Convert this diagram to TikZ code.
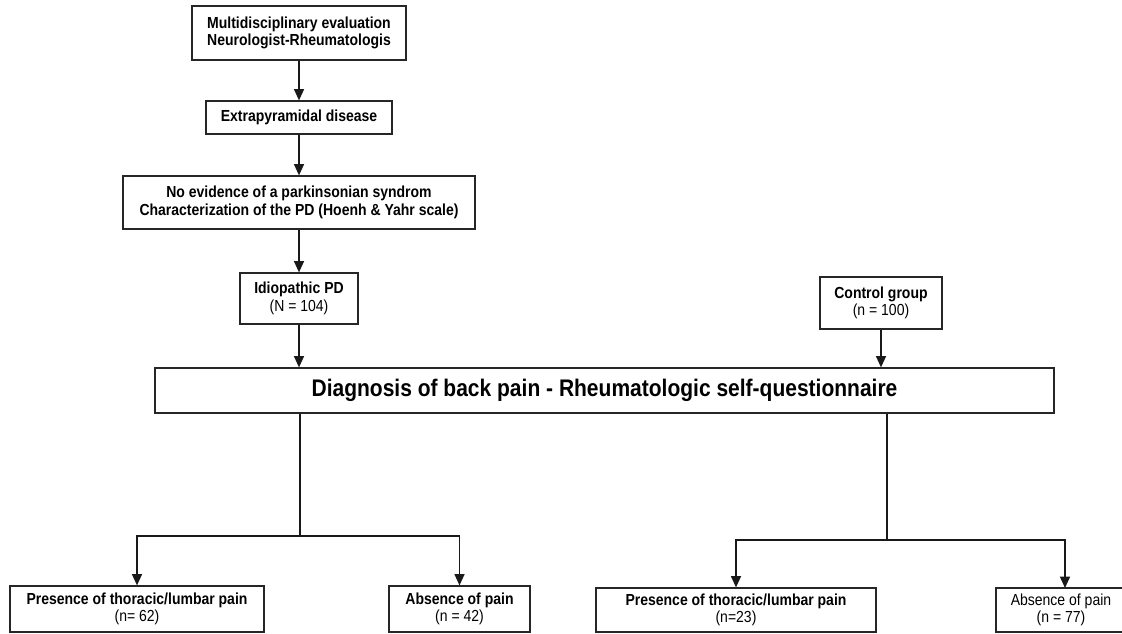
\documentclass[tikz,border=0pt]{standalone}
\usepackage{fontspec}
\setmainfont{Liberation Sans}[FakeStretch=0.875]
\usetikzlibrary{arrows.meta}
\begin{document}
\begin{tikzpicture}[x=0.75pt,y=-0.75pt,
  box/.style={draw=black!85,line width=0.9pt,inner sep=0pt,align=center,
     font=\fontsize{12}{13}\selectfont},
  bigbox/.style={draw=black!85,line width=0.9pt,inner sep=0pt,align=center,
     font=\bfseries\fontsize{18}{20}\selectfont},
  conn/.style={line width=1.1pt,black!90},
  arr/.style={conn,-{Triangle[width=7.5pt,length=8.5pt]}}]
\useasboundingbox (0,0) rectangle (1122,634);
\node[box,minimum width=214*0.75pt,minimum height=54*0.75pt] (B1) at (299,33)
  {\bfseries Multidisciplinary evaluation\\\bfseries Neurologist-Rheumatologis};
\node[box,minimum width=186*0.75pt,minimum height=33*0.75pt] (B2) at (299,117.5)
  {\bfseries Extrapyramidal disease};
\node[box,minimum width=352*0.75pt,minimum height=53*0.75pt] (B3) at (299,202.5)
  {\bfseries No evidence of a parkinsonian syndrom\\\bfseries Characterization of the PD (Hoenh \& Yahr scale)};
\node[box,minimum width=118*0.75pt,minimum height=51*0.75pt] (Idio) at (299,298.5)
  {\bfseries Idiopathic PD\\(N = 104)};
\node[box,minimum width=122*0.75pt,minimum height=52*0.75pt] (Ctrl) at (881,303)
  {\bfseries Control group\\(n = 100)};
\node[bigbox,minimum width=899*0.75pt,minimum height=45*0.75pt] (Main) at (604.5,390.5)
  {Diagnosis of back pain - Rheumatologic self-questionnaire};
\node[box,minimum width=254*0.75pt,minimum height=46*0.75pt] (P1) at (137,609)
  {\bfseries Presence of thoracic/lumbar pain\\(n= 62)};
\node[box,minimum width=141*0.75pt,minimum height=46*0.75pt] (A1) at (459.5,609)
  {\bfseries Absence of pain\\(n = 42)};
\node[box,minimum width=280*0.75pt,minimum height=44*0.75pt] (P2) at (736,610)
  {\bfseries Presence of thoracic/lumbar pain\\(n=23)};
\node[box,draw=none,minimum height=44*0.75pt] (A2) at (1061,610)
  {Absence of pain\\(n = 77)};
\draw[black!85,line width=0.9pt] (1123,588) -- (996,588) -- (996,632) -- (1123,632);
\coordinate (A2top) at (1065,588);
\draw[arr] (B1) -- (B2);
\draw[arr] (B2) -- (B3);
\draw[arr] (B3) -- (Idio);
\draw[arr] (Idio.south) -- (Idio.south |- Main.north);
\draw[arr] (Ctrl.south) -- (Ctrl.south |- Main.north);
\coordinate (L) at (300,536);
\coordinate (R) at (887,540);
\draw[conn] (Main.south -| L) -- (L);
\draw[arr] (L) -| (P1.north);
\draw[arr] (L) -| (A1.north);
\draw[conn] (Main.south -| R) -- (R);
\draw[arr] (R) -| (P2.north);
\draw[arr] (R) -| (A2top);
\end{tikzpicture}
\end{document}
